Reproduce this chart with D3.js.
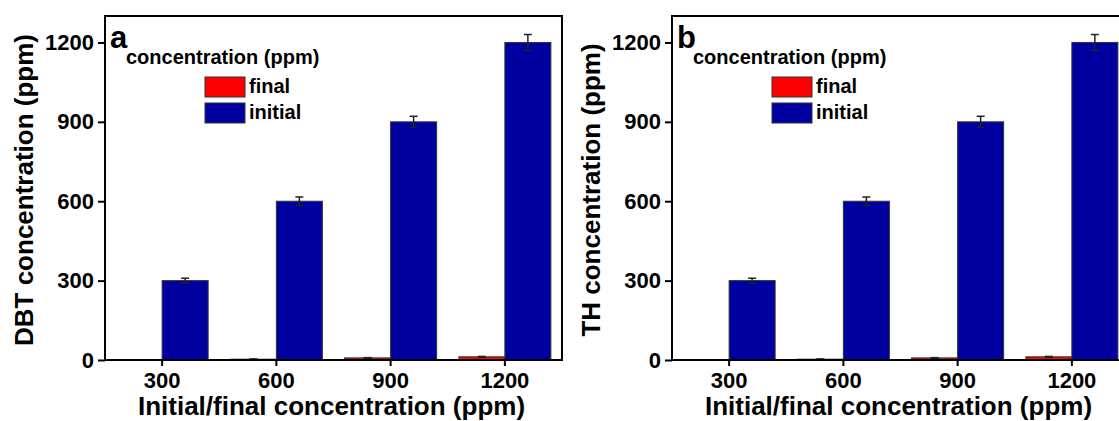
<!DOCTYPE html>
<html>
<head>
<meta charset="utf-8">
<script src="https://cdn.jsdelivr.net/npm/d3@7"></script>
<style>
  body { margin: 0; background: #fff; }
  text { font-family: "Liberation Sans", Arial, sans-serif; font-weight: bold; fill: #000; }
  .axis path, .axis line { stroke: #000; stroke-width: 2px; }
  .axis text { font-size: 22px; font-family: "Liberation Sans", Arial, sans-serif; font-weight: bold; }
</style>
</head>
<body>
<div id="chart"></div>
<script>
var concentrations = ["300", "600", "900", "1200"];
var yTicks = [0, 300, 600, 900, 1200];

// panel a: DBT
var dbtFinal = [0.5, 3, 8, 12];
var dbtFinalErr = [0, 0.5, 1, 1.5];
var dbtInitial = [300, 600, 900, 1200];
var dbtInitialErr = [9, 16, 21, 30];

// panel b: TH
var thFinal = [0.5, 3, 8, 12];
var thFinalErr = [0, 0.5, 1, 1.5];
var thInitial = [300, 600, 900, 1200];
var thInitialErr = [9, 16, 21, 30];

var seriesNames = ["final", "initial"];
var seriesColors = ["#ff0000", "#0000a0"];

var width = 1119,
    height = 421;

var svg = d3.select("#chart")
    .append("svg")
    .attr("width", width)
    .attr("height", height);

var plotW = 457,
    plotH = 344;

function createPanel(left, top, letter, yTitle, finalVals, finalErr, initVals, initErr) {
  var g = svg.append("g")
      .attr("transform", "translate(" + left + "," + top + ")");

  var y = d3.scaleLinear().domain([0, 1300]).range([plotH, 0]);
  var x = d3.scaleBand().domain(concentrations).range([0, plotW])
      .paddingInner(0.2).paddingOuter(0.1);
  var barW = 46;

  var rows = concentrations.map(function(c, i) {
    return [
      { cat: c, s: 0, v: finalVals[i], e: finalErr[i] },
      { cat: c, s: 1, v: initVals[i], e: initErr[i] }
    ];
  });
  var flat = [].concat.apply([], rows);

  function cx(d) { return x(d.cat) + x.bandwidth() / 2; }

  g.selectAll(".bar")
    .data(flat)
    .enter().append("rect")
      .attr("class", "bar")
      .attr("x", function(d) { return d.s === 0 ? cx(d) - barW : cx(d); })
      .attr("y", function(d) { return y(d.v); })
      .attr("width", barW)
      .attr("height", function(d) { return plotH - y(d.v); })
      .attr("fill", function(d) { return seriesColors[d.s]; })
      .attr("stroke", "#333")
      .attr("stroke-width", 1);

  var err = g.selectAll(".err")
    .data(flat.filter(function(d) { return d.e > 0; }))
    .enter().append("g")
      .attr("class", "err")
      .attr("stroke", "#222")
      .attr("stroke-width", 1.5);

  function ex(d) { return d.s === 0 ? cx(d) - barW / 2 : cx(d) + barW / 2; }

  err.append("line")
      .attr("x1", ex).attr("x2", ex)
      .attr("y1", function(d) { return y(d.v + d.e); })
      .attr("y2", function(d) { return y(d.v - d.e); });
  err.append("line")
      .attr("x1", function(d) { return ex(d) - 4; })
      .attr("x2", function(d) { return ex(d) + 4; })
      .attr("y1", function(d) { return y(d.v + d.e); })
      .attr("y2", function(d) { return y(d.v + d.e); });
  err.append("line")
      .attr("x1", function(d) { return ex(d) - 4; })
      .attr("x2", function(d) { return ex(d) + 4; })
      .attr("y1", function(d) { return y(d.v - d.e); })
      .attr("y2", function(d) { return y(d.v - d.e); });

  // frame
  g.append("rect")
      .attr("width", plotW)
      .attr("height", plotH)
      .attr("fill", "none")
      .attr("stroke", "#000")
      .attr("stroke-width", 2);

  g.append("g")
      .attr("class", "axis")
      .call(d3.axisLeft(y).tickValues(yTicks).tickFormat(d3.format("d"))
        .tickSize(7).tickSizeOuter(0).tickPadding(4))
      .call(function(a) { a.select(".domain").remove(); });

  g.append("g")
      .attr("class", "axis")
      .attr("transform", "translate(0," + plotH + ")")
      .call(d3.axisBottom(x).tickSize(6).tickSizeOuter(0).tickPadding(6))
      .call(function(a) { a.select(".domain").remove(); });

  g.append("text")
      .attr("x", 5)
      .attr("y", 32)
      .style("font-size", "31px")
      .text(letter);

  // legend
  g.append("text")
      .attr("x", 21)
      .attr("y", 48)
      .style("font-size", "20px")
      .text("concentration (ppm)");

  var leg = g.selectAll(".leg")
    .data(seriesNames)
    .enter().append("g")
      .attr("class", "leg")
      .attr("transform", function(d, i) { return "translate(100," + (61 + i * 26) + ")"; });

  leg.append("rect")
      .attr("width", 40)
      .attr("height", 20)
      .attr("fill", function(d, i) { return seriesColors[i]; })
      .attr("stroke", "#333")
      .attr("stroke-width", 1);

  leg.append("text")
      .attr("x", 44)
      .attr("y", 16)
      .style("font-size", "20px")
      .text(function(d) { return d; });

  g.append("text")
      .attr("x", plotW / 2 - 2)
      .attr("y", plotH + 55)
      .attr("text-anchor", "middle")
      .style("font-size", "26px")
      .text("Initial/final concentration (ppm)");

  g.append("text")
      .attr("transform", "translate(-72," + (plotH / 2 + 2) + ") rotate(-90)")
      .attr("text-anchor", "middle")
      .style("font-size", "26px")
      .text(yTitle);
}

createPanel(105, 16, "a", "DBT concentration (ppm)", dbtFinal, dbtFinalErr, dbtInitial, dbtInitialErr);
createPanel(672, 16, "b", "TH concentration (ppm)", thFinal, thFinalErr, thInitial, thInitialErr);
</script>
</body>
</html>
